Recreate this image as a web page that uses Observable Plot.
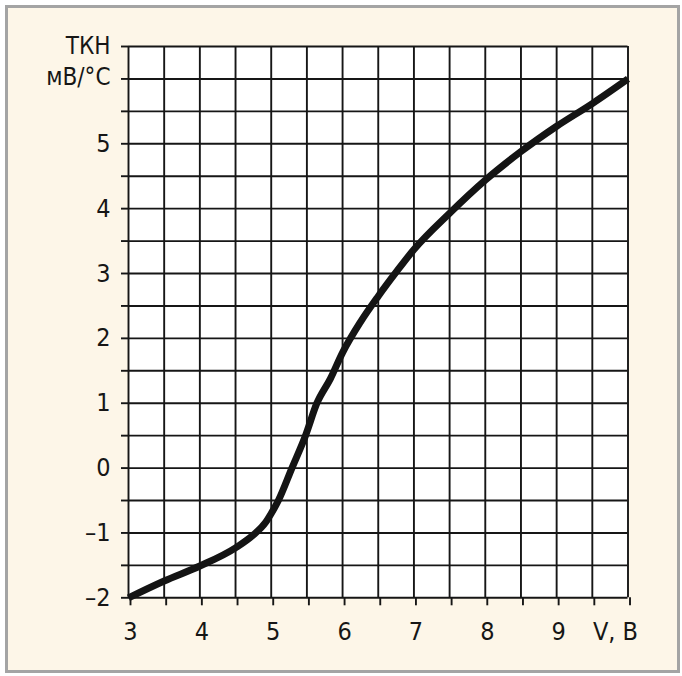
<!DOCTYPE html>
<html>
<head>
<meta charset="utf-8">
<script src="https://cdn.jsdelivr.net/npm/d3@7"></script>
<script src="https://cdn.jsdelivr.net/npm/@observablehq/plot@0.6"></script>
<style>
  html, body { margin: 0; padding: 0; background: #ffffff; }
  #wrap { position: relative; width: 682px; height: 676px; overflow: hidden; }
  #panel { position: absolute; left: 5px; top: 5px; width: 669px; height: 662px;
           border: 3px solid #a4a4a4; background: #fdf6e8; }
  #chart { position: absolute; left: 0; top: 0; }
  #chart svg text { font-stretch: condensed; }
</style>
</head>
<body>
<div id="wrap"><div id="panel"></div><div id="chart"></div></div>
<script>
// Data
const voltage = [3.0, 3.5, 4.0, 4.5, 4.75, 4.92, 5.0, 5.1, 5.29, 5.48, 5.64, 5.83, 6.0, 6.25, 6.5, 6.75, 7.0, 7.5, 8.0, 8.5, 9.0, 9.5, 10.0];
const tkn     = [-2.0, -1.74, -1.51, -1.23, -1.03, -0.84, -0.7, -0.5, 0.0, 0.5, 1.0, 1.38, 1.78, 2.25, 2.65, 3.02, 3.37, 3.93, 4.44, 4.88, 5.27, 5.62, 6.0];

const xTickValues = [3, 4, 5, 6, 7, 8, 9];
const yTickValues = [-2, -1, 0, 1, 2, 3, 4, 5];
const yUnitLabels = ["ТКН", "мВ/°С"];
const xUnitLabel = "V, В";

const points = voltage.map((v, i) => ({v, t: tkn[i]}));
const xGrid = d3.range(3, 10.001, 0.5);
const yGrid = d3.range(-2, 6.501, 0.5);
const ink = "#161616";
const fmt = d => (d < 0 ? "\u2013" + Math.abs(d) : String(d));

const plot = Plot.plot({
  width: 682,
  height: 676,
  marginLeft: 128,
  marginRight: 54.5,
  marginTop: 46,
  marginBottom: 78.7,
  style: {background: "transparent", fontFamily: "'Liberation Sans Narrow', 'DejaVu Sans Condensed', 'Liberation Sans', sans-serif", fontSize: "25px", color: ink},
  x: {type: "linear", domain: [3, 10]},
  y: {type: "linear", domain: [-2, 6.5]},
  marks: [
    Plot.frame({fill: "white", stroke: null}),
    Plot.ruleX(xGrid, {stroke: ink, strokeWidth: 1.9}),
    Plot.ruleY(yGrid, {stroke: ink, strokeWidth: 1.9}),
    Plot.axisX({ticks: xGrid, tickSize: 8, tickPadding: 16, tickFormat: d => (xTickValues.includes(d) ? fmt(d) : ""), stroke: ink, strokeWidth: 1.9, dx: 2, label: null}),
    Plot.axisY({ticks: yGrid, tickSize: 7, tickPadding: 11, tickFormat: d => (yTickValues.includes(d) ? fmt(d) : ""), stroke: ink, strokeWidth: 1.9, label: null}),
    Plot.text([yUnitLabels[0]], {x: 3, y: 6.5, text: d => d, textAnchor: "end", dx: -18, dy: 0, fontSize: 24, fill: ink}),
    Plot.text([yUnitLabels[1]], {x: 3, y: 6, text: d => d, textAnchor: "end", dx: -18, dy: -2, fontSize: 24, fill: ink}),
    Plot.text([xUnitLabel], {x: 10, y: -2, text: d => d, textAnchor: "end", lineAnchor: "top", dx: 10, dy: 24, fill: ink}),
    Plot.line(points, {x: "v", y: "t", curve: "monotone-x", stroke: "#141414", strokeWidth: 7, strokeLinecap: "butt", strokeLinejoin: "round"})
  ]
});
document.getElementById("chart").appendChild(plot);
</script>
</body>
</html>
